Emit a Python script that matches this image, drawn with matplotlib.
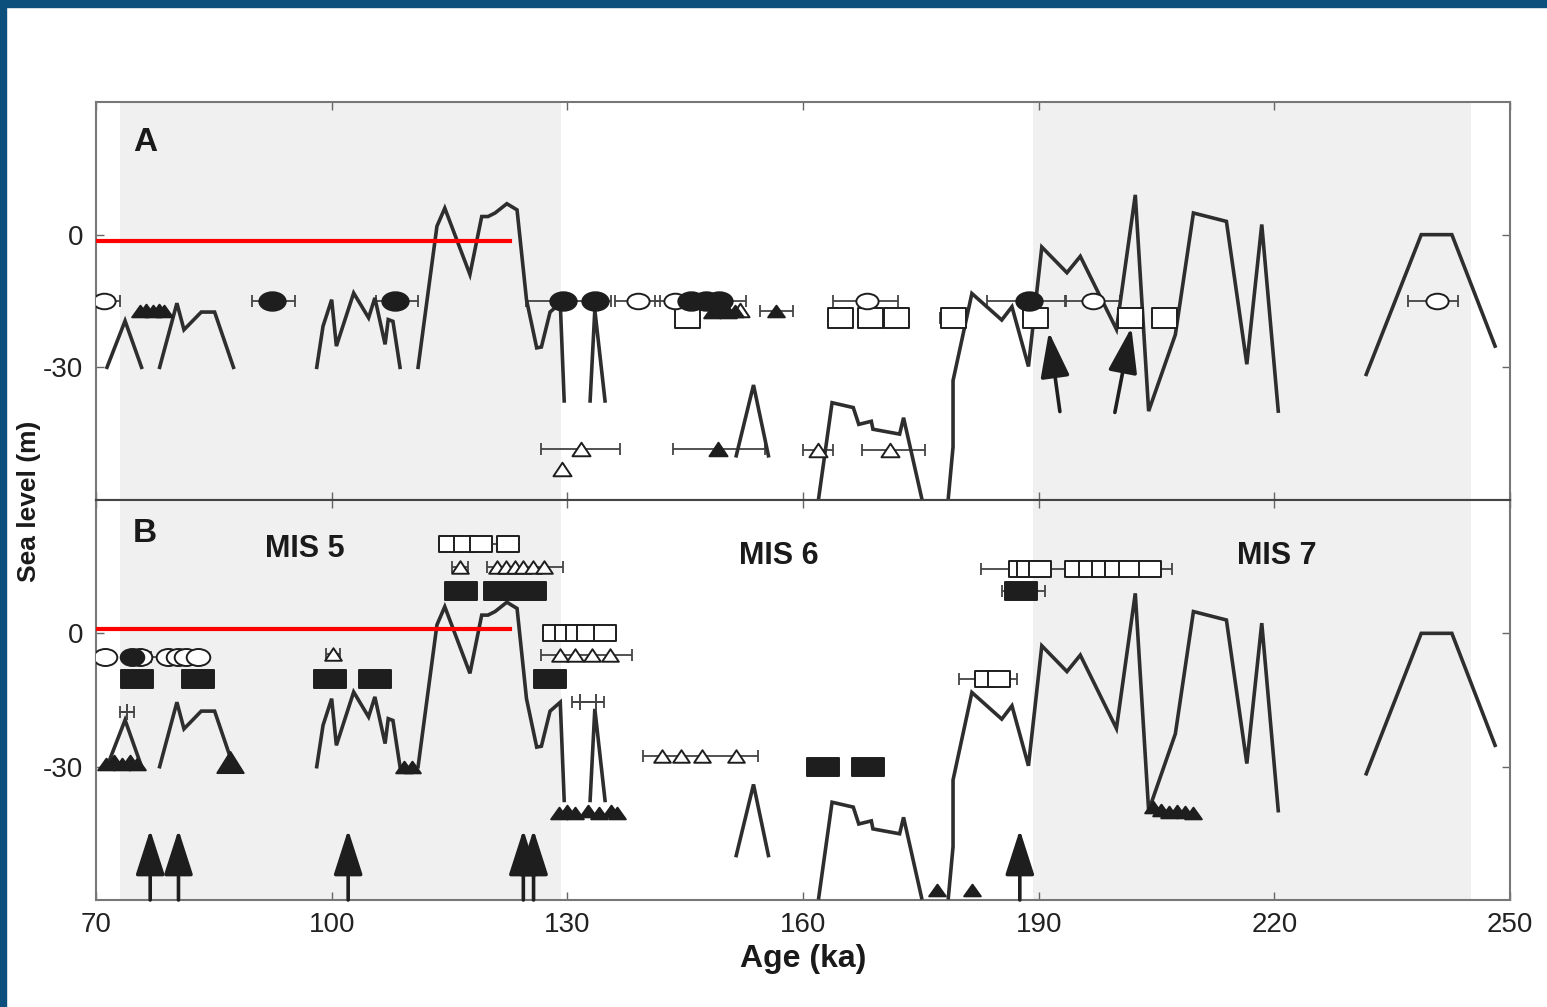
import numpy as np
import matplotlib
matplotlib.use('Agg')
import matplotlib.pyplot as plt
from matplotlib.path import Path
from matplotlib.transforms import Affine2D
from matplotlib.patches import Rectangle

plt.rcParams['font.family'] = ['Liberation Sans', 'DejaVu Sans']

nan = np.nan

# sea-level curve (same in both panels), NaN = gap
curve_age = [71.4, 73.7, 75.8, nan,
             78.1, 80.3, 81.2, 83.4, 85.1, 87.5, nan,
             98.1, 98.9, 100.0, 100.6, 102.8, 104.7, 105.5, 106.8, 107.2, 107.8, 108.7, nan,
             111.0, 113.4, 114.4, 117.6, 119.1, 119.9, 120.8, 122.3, 123.6, 124.8, 126.1, 126.7,
             127.8, 129.1, 129.6, nan,
             132.9, 133.5, 134.8, nan,
             151.5, 153.7, 155.6, nan,
             162.0, 163.7, 166.4, 167.1, 168.7, 168.9, 172.3, 172.8, 175.1, nan,
             178.5, 179.1, 179.1, 180.6, 181.5, 185.3, 186.6, 188.7, 190.4, 193.6, 195.3, 199.9,
             202.3, 204.0, 207.4, 209.7, 213.9, 216.5, 218.4, 220.5, nan,
             231.7, 238.7, 242.6, 248.1]
curve_sl = [-30, -19.5, -30, nan,
            -30, -15.5, -21.5, -17.5, -17.5, -30, nan,
            -30, -20.7, -14.7, -25.2, -13.2, -18.8, -14.3, -24.8, -19.2, -19.6, -30, nan,
            -30, 1.9, 6.0, -9.0, 4.1, 4.1, 4.9, 7.0, 5.6, -14.7, -25.6, -25.4,
            -17.5, -15.5, -37.6, nan,
            -37.6, -17.0, -37.6, nan,
            -50, -34, -50, nan,
            -59.5, -38, -39.1, -42.9, -42.2, -44, -45.1, -41.4, -59.5, nan,
            -59.5, -48, -33, -20.7, -13.3, -19.3, -16.3, -29.8, -2.8, -8.6, -4.9, -21.4,
            9.0, -39.9, -22.6, 4.9, 3.0, -29.3, 2.3, -39.9, nan,
            -31.6, 0, 0, -25.2]

mis_bands = [(73.0, 129.2), (189.3, 245.0)]
x_ticks = [70, 100, 130, 160, 190, 220, 250]
y_ticks = [0, -30]
y_tick_labels = ['0', '-30']

# ---- panel A ----
a_red_end, a_red_y = 122.7, -1.5
a_circ_open_x = [71.0, 139.0, 143.7, 168.1, 196.9, 240.7]
a_circ_open_y = [-15, -15, -15, -15, -15, -15]
a_circ_fill_x = [92.4, 108.1, 129.5, 133.5, 145.8, 147.6, 149.3, 188.8]
a_circ_fill_y = [-15, -15, -15, -15, -15, -15, -15, -15]
a_tri_fill_x = [75.6, 76.4, 77.2, 78.0, 78.7, 148.4, 149.4, 150.4, 151.4, 156.6]
a_tri_fill_y = [-17.2, -17.0, -17.2, -17.0, -17.2, -17.5, -17.3, -17.5, -17.3, -17.3]
a_tri_open_x = [152.0, 131.8, 129.3, 161.9, 171.1]
a_tri_open_y = [-17.0, -48.5, -53.0, -48.8, -48.8]
a_tri_low_fill_x = [149.2]
a_tri_low_fill_y = [-48.5]
a_box_open_x = [145.2, 164.7, 168.5, 171.9, 179.1, 189.5, 201.6, 205.9]
a_box_open_y = [-18.8, -18.8, -18.8, -18.8, -18.8, -18.8, -18.8, -18.8]
a_span_lo = [69.0, 89.8, 105.7, 124.8, 136.1, 141.2, 154.5, 163.8, 177.4, 183.4, 193.5, 237.0,
             126.7, 143.5, 160.0, 167.5]
a_span_hi = [73.0, 95.3, 111.0, 135.6, 141.8, 152.8, 158.7, 172.1, 180.8, 193.3, 200.3, 243.4,
             136.7, 155.2, 163.8, 175.5]
a_span_y = [-15, -15, -15, -15, -15, -15, -17.3, -15, -18.8, -15, -15, -15,
            -48.5, -48.5, -48.8, -48.8]
a_arrow_tail_x = [192.7, 199.7]
a_arrow_tail_y = [-40.0, -40.2]
a_arrow_tip_x = [191.3, 201.8]
a_arrow_tip_y = [-22.0, -21.0]

# ---- panel B ----
b_red_end, b_red_y = 122.7, 1.0
b_circ_open_x = [71.1, 75.6, 79.2, 80.5, 81.5, 83.0]
b_circ_open_y = [-5.3, -5.3, -5.3, -5.3, -5.3, -5.3]
b_circ_fill_x = [74.6]
b_circ_fill_y = [-5.3]
b_rect_fill_x = [75.2, 83.0, 99.8, 105.5, 127.8, 162.6, 168.3, 116.5, 121.4, 125.2, 187.8]
b_rect_fill_y = [-10.2, -10.2, -10.2, -10.2, -10.2, -30, -30, 9.6, 9.6, 9.6, 9.6]
b_tri_open_x = [100.2, 116.3, 121.0, 122.2, 123.3, 124.4, 125.6, 127.0,
                129.1, 131.0, 133.1, 135.4, 142.0, 144.5, 147.1, 151.5]
b_tri_open_y = [-4.6, 14.9, 14.9, 14.9, 14.9, 14.9, 14.9, 14.9,
                -4.9, -4.9, -4.9, -4.9, -27.7, -27.7, -27.7, -27.7]
b_box_open_x = [115.0, 117.0, 119.0, 122.5,
                128.3, 129.8, 131.2, 132.6, 134.8,
                183.3, 185.0,
                187.6, 188.6, 190.2, 194.8, 196.5, 198.2, 199.9, 201.6, 204.2]
b_box_open_y = [20.1, 20.1, 20.1, 20.1,
                0, 0, 0, 0, 0,
                -10.2, -10.2,
                14.5, 14.5, 14.5, 14.5, 14.5, 14.5, 14.5, 14.5, 14.5]
b_plus_x = [73.9, 131.6, 133.7]
b_plus_y = [-17.6, -15.4, -15.4]
b_tri_fill_x = [71.3, 72.3, 73.3, 74.3, 75.2, 109.2, 110.2,
                128.9, 130.0, 131.0, 132.6, 134.0, 135.5, 136.3,
                204.6, 205.6, 206.6, 207.6, 208.6, 209.6, 177.0, 181.5]
b_tri_fill_y = [-29.5, -28.8, -29.5, -28.8, -29.5, -30, -30,
                -40.5, -40.0, -40.5, -40.0, -40.5, -40.0, -40.5,
                -39.0, -39.8, -40.3, -40.0, -40.3, -40.5, -57.8, -57.8]
b_tri_big_x = [87.1]
b_tri_big_y = [-29.0]
b_span_lo = [113.8, 115.3, 119.8, 127.0, 126.7, 77.0, 99.3, 73.0, 130.6, 139.6, 179.8, 182.7, 185.3]
b_span_hi = [123.7, 117.3, 129.5, 136.2, 138.2, 84.0, 101.1, 74.8, 134.7, 154.3, 187.2, 207.0, 190.8]
b_span_y = [20.1, 14.9, 14.9, 0, -4.9, -5.3, -4.6, -17.6, -15.4, -27.7, -10.2, 14.5, 9.6]
b_arrow_x = [76.9, 80.5, 102.1, 124.4, 125.7, 187.6]
b_arrow_base, b_arrow_tip = -60.0, -44.2


def box(asp):
    return Path([(-1, -asp), (1, -asp), (1, asp), (-1, asp), (-1, -asp)],
                [Path.MOVETO, Path.LINETO, Path.LINETO, Path.LINETO, Path.CLOSEPOLY])


def tri(asp):
    return Path([(-1, -asp), (1, -asp), (0, asp), (-1, -asp)],
                [Path.MOVETO, Path.LINETO, Path.LINETO, Path.CLOSEPOLY])


def ellipse(asp):
    return Affine2D().scale(1, asp).transform_path(Path.unit_circle())


INK = '#1e1e1e'
LINE = '#2e2e2e'
ERR = '#444444'


def spans(ax, lo, hi, y):
    lo, hi, y = np.array(lo), np.array(hi), np.array(y)
    mid = (lo + hi) / 2
    ax.errorbar(mid, y, xerr=[mid - lo, hi - mid], fmt='none', ecolor=ERR,
                elinewidth=1.3, capsize=4, capthick=1.3, zorder=2)


def pts(ax, x, y, marker, size, filled, z=4):
    ax.plot(x, y, ls='none', marker=marker, ms=size,
            mfc=INK if filled else 'white', mec=INK, mew=1.4, zorder=z)


def up_arrow(ax, x0, y0, x1, y1):
    ax.annotate('', xy=(x1, y1), xytext=(x0, y0),
                arrowprops=dict(arrowstyle='-|>,head_length=1.4,head_width=0.45',
                                color=INK, lw=2.6, shrinkA=0, shrinkB=0,
                                mutation_scale=20), zorder=5)


fig = plt.figure(figsize=(15.47, 10.07), dpi=100)
fig.patches.append(Rectangle((0, 0.993), 1, 0.007, transform=fig.transFigure,
                             color='#0c4f7c', zorder=10))
fig.patches.append(Rectangle((0, 0), 0.0042, 1, transform=fig.transFigure,
                             color='#0c4f7c', zorder=10))

L, W = 96 / 1547, 1414 / 1547
axA = fig.add_axes([L, 1 - 500 / 1007, W, 398 / 1007])
axB = fig.add_axes([L, 1 - 900 / 1007, W, 400 / 1007])

for ax in (axA, axB):
    for a0, a1 in mis_bands:
        ax.axvspan(a0, a1, color='#f0f0f0', lw=0, zorder=0)
    ax.plot(curve_age, curve_sl, color=LINE, lw=2.6, zorder=3,
            solid_joinstyle='miter')
    ax.set_xlim(70, 250)
    ax.set_ylim(-60, 30)
    ax.set_xticks(x_ticks)
    ax.set_yticks(y_ticks)
    ax.set_yticklabels(y_tick_labels)
    ax.tick_params(direction='in', length=6, width=1, colors='#666666',
                   labelcolor='#222222', labelsize=20, top=True, right=True, pad=9)
    for s in ax.spines.values():
        s.set_color('#777777')
        s.set_linewidth(1.5)

axA.spines['bottom'].set_color('#444444')
axB.spines['top'].set_color('#444444')
axA.tick_params(labelbottom=False)

# panel A
axA.plot([70, a_red_end], [a_red_y, a_red_y], color='red', lw=3, zorder=3)
spans(axA, a_span_lo, a_span_hi, a_span_y)
pts(axA, a_box_open_x, a_box_open_y, box(0.78), 18, False)
pts(axA, a_tri_open_x, a_tri_open_y, tri(0.75), 13, False)
pts(axA, a_tri_fill_x, a_tri_fill_y, tri(0.7), 12, True)
pts(axA, a_tri_low_fill_x, a_tri_low_fill_y, tri(0.75), 13, True)
pts(axA, a_circ_open_x, a_circ_open_y, ellipse(0.7), 16, False)
pts(axA, a_circ_fill_x, a_circ_fill_y, ellipse(0.7), 19, True)
for x0, y0, x1, y1 in zip(a_arrow_tail_x, a_arrow_tail_y, a_arrow_tip_x, a_arrow_tip_y):
    up_arrow(axA, x0, y0, x1, y1)

# panel B
axB.plot([70, b_red_end], [b_red_y, b_red_y], color='red', lw=3, zorder=3)
spans(axB, b_span_lo, b_span_hi, b_span_y)
pts(axB, b_box_open_x, b_box_open_y, box(0.7), 16, False)
pts(axB, b_tri_open_x, b_tri_open_y, tri(0.75), 12, False)
pts(axB, b_circ_open_x, b_circ_open_y, ellipse(0.72), 17, False)
pts(axB, b_circ_fill_x, b_circ_fill_y, ellipse(0.72), 17, True)
pts(axB, b_rect_fill_x, b_rect_fill_y, box(0.56), 23, True)
pts(axB, b_tri_fill_x, b_tri_fill_y, tri(0.7), 12, True)
pts(axB, b_tri_big_x, b_tri_big_y, tri(0.8), 19, True)
axB.plot(b_plus_x, b_plus_y, ls='none', marker='+', ms=12, mew=1.4, color=ERR, zorder=4)
for x in b_arrow_x:
    up_arrow(axB, x, b_arrow_base, x, b_arrow_tip)

bold = dict(fontweight='bold', color='#1a1a1a')
axA.text(0.0347, 0.897, 'A', transform=axA.transAxes, ha='center', va='center',
         fontsize=24, **bold)
axB.text(0.0347, 0.9175, 'B', transform=axB.transAxes, ha='center', va='center',
         fontsize=24, **bold)
axB.text(0.148, 0.8775, 'MIS 5', transform=axB.transAxes, ha='center', va='center',
         fontsize=22, **bold)
axB.text(0.483, 0.86, 'MIS 6', transform=axB.transAxes, ha='center', va='center',
         fontsize=22, **bold)
axB.text(0.835, 0.86, 'MIS 7', transform=axB.transAxes, ha='center', va='center',
         fontsize=22, **bold)

fig.text(29 / 1547, 1 - 501 / 1007, 'Sea level (m)', rotation=90, ha='center',
         va='center', fontsize=19, **bold)
fig.text(803 / 1547, 1 - 959 / 1007, 'Age (ka)', ha='center', va='center',
         fontsize=23, **bold)

fig.savefig('out.png', dpi=100)
